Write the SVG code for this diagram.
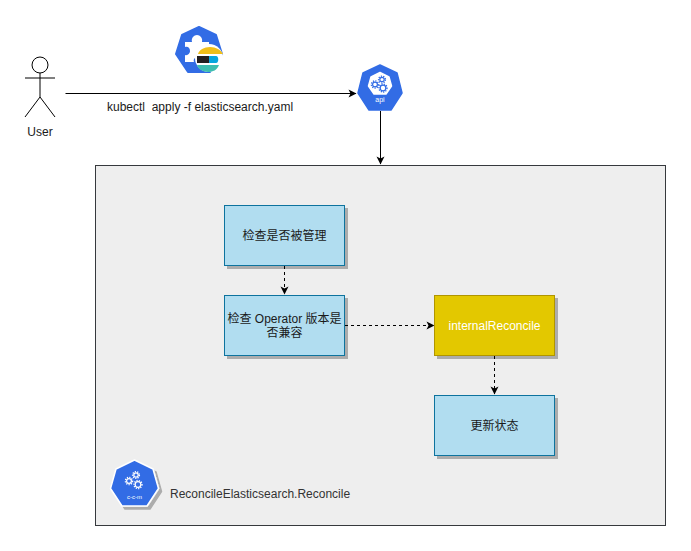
<svg xmlns="http://www.w3.org/2000/svg" width="691" height="551" viewBox="0 0 691 551">
<defs>
<marker id="arr" markerUnits="userSpaceOnUse" markerWidth="10" markerHeight="10" refX="8" refY="5" orient="auto"><path d="M0.5 1 L8.5 5 L0.5 9 L2.5 5 Z" fill="#000"/></marker>
<filter id="sh" x="-10%" y="-10%" width="125%" height="125%"><feDropShadow dx="3" dy="3" stdDeviation="0.6" flood-color="#000" flood-opacity="0.28"/></filter>
</defs>
<style>
text{font-family:"Liberation Sans","Noto Sans CJK SC",sans-serif;font-size:12px;fill:#1a1a1a}
.m{text-anchor:middle}
.box{fill:#b1ddf0;stroke:#10739e;stroke-width:1;filter:url(#sh)}
.c{fill:none;stroke:#000;stroke-width:1}
.d{stroke-dasharray:3 3}
.k{fill:#326ce5}
.g{fill:none;stroke-width:1.200}
.t{fill:none;stroke-width:1.400;stroke-dasharray:1.200 1.200}
</style>
<rect width="691" height="551" fill="#fff"/>
<g id="stage"><rect x="95.500" y="165.500" width="570" height="360" fill="#eeeeee" stroke="#36393d"/></g>
<g id="connectors">
<path class="c" d="M65.500 93.500H356" marker-end="url(#arr)"/>
<path class="c" d="M380.500 111V164" marker-end="url(#arr)"/>
<path class="c d" d="M284.500 266V294" marker-end="url(#arr)"/>
<path class="c d" d="M345 325.500H434" marker-end="url(#arr)"/>
<path class="c d" d="M494.500 356V394" marker-end="url(#arr)"/>
</g>
<g id="user" fill="none" stroke="#000">
<circle cx="40" cy="65" r="8"/>
<path d="M40 73V97M25 78H55M40 97L25 117M40 97L55 117"/>
<text class="m" x="40" y="136" stroke="none">User</text>
</g>
<g id="elastic-icon">
<path class="k" d="M199 27L216 35L222 54L210 72H188L176 54L182 35Z" stroke="#326ce5" stroke-width="2" stroke-linejoin="round"/>
<path d="M185 42H192C191 38 194 35 197 35C200 35 203 38 202 42H209V50C212 49 214 52 214 54V62H202C203 59 201 57 198 57C195 57 193 59 194 62H185V55C188 56 190 53 190 51C190 48 188 46 185 47Z" fill="#fff"/>
<ellipse cx="209" cy="58" rx="14" ry="14" fill="#fff"/>
<path d="M198 54C199 50 204 47 210 47C216 47 221 50 223 54Z" fill="#f0bf1a"/>
<rect x="197" y="56" width="12" height="7" fill="#231f20"/>
<path d="M209 56H216C219 56 219 63 216 63H209Z" fill="#07a5de"/>
<path d="M197 65H219C217 70 213 72 208 72C203 72 198 69 197 65Z" fill="#3ebeb0"/>
</g>
<g id="api">
<path class="k" d="M380 65L397 73L402 93L391 110H369L358 93L363 73Z" stroke="#326ce5" stroke-width="1.500" stroke-linejoin="round"/>
<path d="M380 72.500L389 77L391.500 86L386 94H374L368.500 86L371 77Z" fill="#fff" stroke="#fff" stroke-width="1.500" stroke-linejoin="round"/>
<g stroke="#326ce5">
<circle class="g" cx="375" cy="84.500" r="2.400"/><circle class="t" cx="375" cy="84.500" r="3.600"/>
<circle class="g" cx="382" cy="79.500" r="2.200"/><circle class="t" cx="382" cy="79.500" r="3.400"/>
<circle class="g" cx="383" cy="88" r="2.800"/><circle class="t" cx="383" cy="88" r="4"/>
</g>
<text class="m" x="380" y="102" style="font-size:7px;fill:#fff">api</text>
</g>
<g id="n1"><rect class="box" x="224.500" y="205.500" width="120" height="60"/><text class="m" x="284.500" y="240">检查是否被管理</text></g>
<g id="n2"><rect class="box" x="224.500" y="295.500" width="120" height="60"/><text class="m" x="284.500" y="323">检查 Operator 版本是</text><text class="m" x="284.500" y="337">否兼容</text></g>
<g id="n3"><rect class="box" x="434.500" y="295.500" width="120" height="60" style="fill:#e3c800;stroke:#b09500"/><text class="m" x="494.500" y="330" style="fill:#fff">internalReconcile</text></g>
<g id="n4"><rect class="box" x="434.500" y="395.500" width="120" height="60"/><text class="m" x="494.500" y="430">更新状态</text></g>
<g id="crd">
<path class="k" d="M134.500 460L153 469L158.500 488.500L147 506H122L110.500 488.500L116 469Z" stroke="#fff" stroke-width="1.500" stroke-linejoin="round" filter="url(#sh)"/>
<g stroke="#fff">
<circle class="g" cx="129" cy="481" r="2.400"/><circle class="t" cx="129" cy="481" r="3.600"/>
<circle class="g" cx="136" cy="475" r="2.200"/><circle class="t" cx="136" cy="475" r="3.400"/>
<circle class="g" cx="138" cy="484.500" r="2.800"/><circle class="t" cx="138" cy="484.500" r="4"/>
</g>
<text class="m" x="134.500" y="499" style="font-size:6px;fill:#fff">c-c-m</text>
</g>
<text x="170" y="498" style="fill:#333">ReconcileElasticsearch.Reconcile</text>
<text x="107" y="111" xml:space="preserve">kubectl  apply -f elasticsearch.yaml</text>
</svg>
